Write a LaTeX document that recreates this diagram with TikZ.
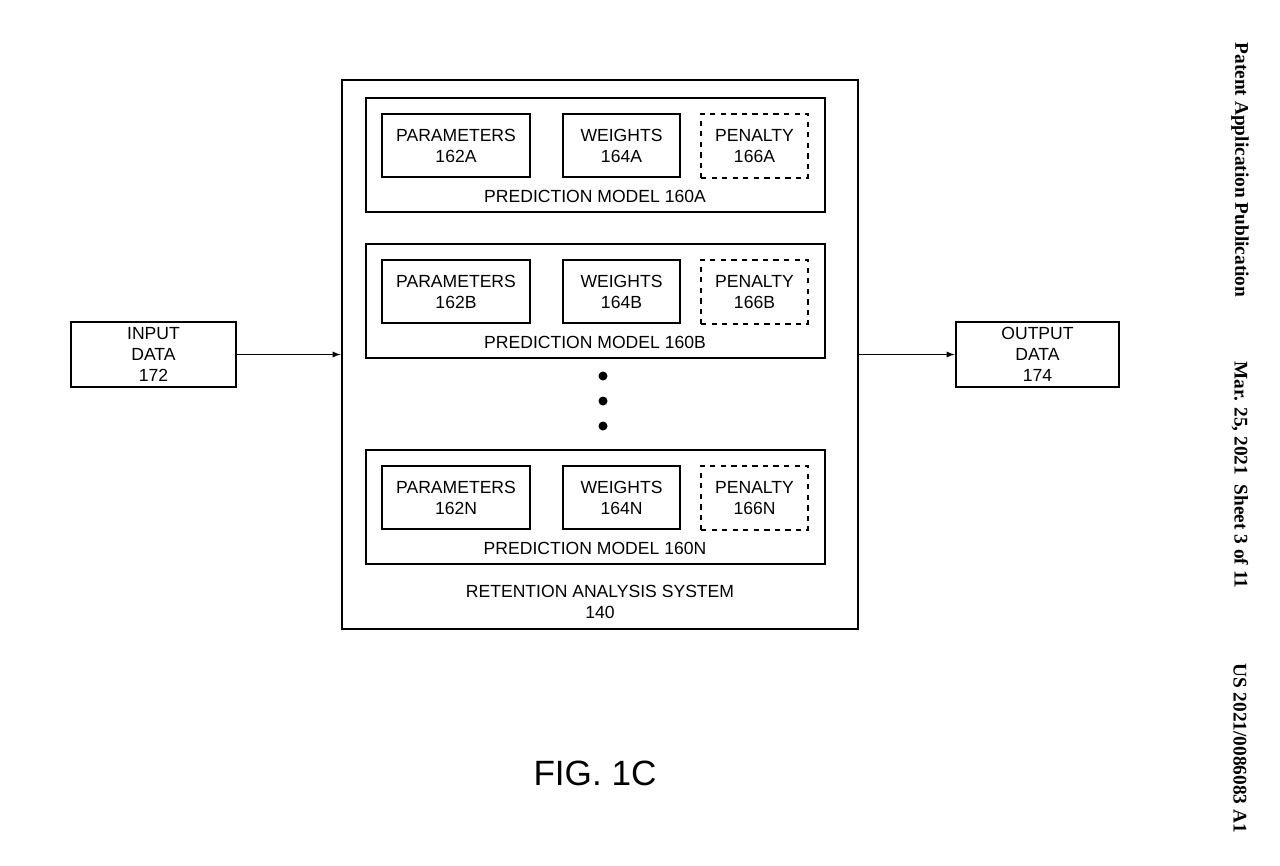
\documentclass[tikz,border=0pt]{standalone}
\usepackage{fontspec}
\setmainfont{Liberation Sans}
\newfontfamily\serifb{Liberation Serif}
\usetikzlibrary{positioning}

\begin{document}
\begin{tikzpicture}[
        x=0.02cm, y=-0.02cm,
        block/.style={
                rectangle,
                draw=black,
                semithick,
                align=center,
                inner sep=0pt,
                font=\fontsize{10}{12}\selectfont
            },
        frame/.style={
                rectangle,
                draw=black,
                semithick,
                inner sep=0pt
            },
        label/.style={
                align=center,
                inner sep=0pt,
                font=\fontsize{10}{12}\selectfont
            },
        header/.style={
                rotate=-90,
                inner sep=0pt,
                font=\serifb\bfseries\fontsize{11}{13}\selectfont
            },
        >= latex,
        shorten >= 0.5pt
    ]
    \useasboundingbox (0,0) rectangle (1280,865);

    \node[frame, minimum width=516*0.02cm, minimum height=549*0.02cm] (System) at (600,354.5) {};
    \node[label] (SystemLabel) at (600,602) {RETENTION ANALYSIS SYSTEM\\140};

    \foreach \s/\y in {A/98,B/244,N/450} {
        \node[frame, minimum width=459*0.02cm, minimum height=114*0.02cm] (Model\s) at (595.5,\y+57) {};
        \node[block, minimum width=148*0.02cm, minimum height=63*0.02cm] (Param\s) at (456,\y+47.5) {PARAMETERS\\162\s};
        \node[block, minimum width=117*0.02cm, minimum height=63*0.02cm] (Weight\s) at (621.5,\y+47.5) {WEIGHTS\\164\s};
        \node[block, dashed, minimum width=107*0.02cm, minimum height=64*0.02cm] (Penalty\s) at (754.5,\y+48) {PENALTY\\166\s};
        \node[label] (ModelLabel\s) at (595,\y+98) {PREDICTION MODEL 160\s};
    }

    \foreach \y in {376,401,426}
        \fill (603,\y) circle (4.5);

    \node[block, minimum width=165*0.02cm, minimum height=65*0.02cm] (Input) at (153.5,354.5) {INPUT\\DATA\\172};
    \node[block, minimum width=163*0.02cm, minimum height=65*0.02cm] (Output) at (1037.5,354.5) {OUTPUT\\DATA\\174};

    \draw[->, semithick] (Input.east) -- (System.west |- Input.east);
    \draw[->, semithick] (System.east |- Output.west) -- (Output.west);

    \node[inner sep=0pt, font=\fontsize{20}{24}\selectfont] (Fig) at (595,773) {FIG. 1C};

    \node[header] (Pub) at (1240,170) {Patent Application Publication};
    \node[header] (Date) at (1240,475) {Mar. 25, 2021\enspace Sheet 3 of 11};
    \node[header] (Num) at (1240,748) {US 2021/0086083 A1};
\end{tikzpicture}
\end{document}
